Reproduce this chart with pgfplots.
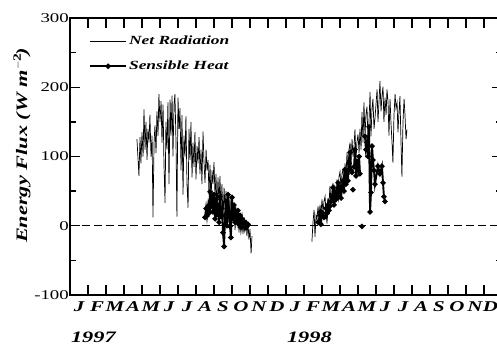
\documentclass[border=0pt]{standalone}
\usepackage{fontspec}
\setmainfont{Liberation Serif}[FakeStretch=1.4]
\usepackage{pgfplots}
\pgfplotsset{compat=1.18}

\begin{document}
\begin{tikzpicture}
\begin{axis}[
  name=ax,
  scale only axis,
  width=432bp, height=277bp,
  xmin=0, xmax=24, ymin=-100, ymax=300,
  axis line style={line width=1.5bp},
  tick style={line width=1.3bp, black},
  tick align=inside,
  xtick pos=both, ytick pos=both,
  xtick={0,...,24},
  x tick label as interval,
  xticklabels={J,F,M,A,M,J,J,A,S,O,N,D,J,F,M,A,M,J,J,A,S,O,N,{\raisebox{3bp}{D}\kern5bp}},
  x tick label style={font=\fontsize{15}{17}\selectfont\bfseries\itshape, yshift=-3bp},
  ytick={-100,0,100,200,300},
  minor y tick num=1,
  major tick length=10bp,
  minor tick length=6bp,
  /pgf/number format/assume math mode=true,
  y tick label style={font=\fontsize{13.5}{15}\selectfont, inner sep=1bp},
  ylabel={\bfseries\itshape Energy Flux (W m$^{\mathbf{-2}}$)},
  every axis y label/.style={at={(rel axis cs:0,0.54)}, rotate=90, anchor=center, yshift=48bp, font=\fontsize{16}{18}\selectfont},
  clip=false,
  legend style={draw=none, fill=none, at={(0.037,0.95)}, anchor=north west,
    font=\fontsize{12.5}{14}\selectfont\bfseries\itshape, row sep=11bp,
    /tikz/every even column/.append style={column sep=4bp}},
  legend cell align=left,
  legend image code/.code={\draw[#1, mark repeat=2, mark phase=2] plot coordinates {(0bp,0bp) (18bp,0bp) (36bp,0bp)};},
]
% Net radiation 1997
\addplot[black, line width=0.7bp, mark=none] coordinates {
(3.72,125)(3.83,72)(3.89,128)(3.94,90)(4.00,135)(4.06,100)(4.11,168)(4.17,110)
(4.22,150)(4.28,95)(4.33,140)(4.39,120)(4.44,160)(4.50,100)(4.56,130)(4.61,12)
(4.67,120)(4.72,145)(4.78,105)(4.83,165)(4.89,130)(4.94,190)(5.00,150)(5.06,180)
(5.11,120)(5.17,175)(5.22,90)(5.28,33)(5.33,150)(5.39,110)(5.44,178)(5.50,60)
(5.56,182)(5.61,130)(5.67,188)(5.72,100)(5.78,175)(5.83,190)(5.89,120)(5.94,13)
(6.00,185)(6.06,140)(6.11,170)(6.17,80)(6.22,160)(6.28,45)(6.33,130)(6.39,100)
(6.44,158)(6.50,60)(6.56,26)(6.61,140)(6.67,95)(6.72,150)(6.78,70)(6.83,120)
(6.89,85)(6.94,135)(7.00,67)(7.06,115)(7.11,90)(7.17,128)(7.22,75)(7.28,110)
(7.33,60)(7.39,136)(7.44,95)(7.50,62)(7.56,110)(7.61,80)(7.67,95)(7.72,45)
(7.78,88)(7.83,33)(7.89,80)(7.94,60)(8.00,92)(8.06,40)(8.11,75)(8.17,13)
(8.22,70)(8.28,30)(8.33,72)(8.39,20)(8.44,60)(8.50,9)(8.56,55)(8.61,25)
(8.67,50)(8.72,10)(8.78,45)(8.83,5)(8.89,42)(8.94,-5)(9.00,35)(9.06,10)
(9.11,30)(9.17,-6)(9.22,25)(9.28,5)(9.33,20)(9.39,-10)(9.44,18)(9.50,2)
(9.56,15)(9.61,-12)(9.67,10)(9.72,-5)(9.78,8)(9.83,-15)(9.89,5)(9.94,-20)
(10.00,-5)(10.06,-40)(10.11,-15)
};
\addlegendentry{Net Radiation}
% Sensible heat 1997
\addplot[black, line width=1.9bp, mark=*, mark size=1.6bp] coordinates {
(7.50,12)(7.56,25)(7.61,14)(7.67,28)(7.72,18)(7.78,49)(7.83,30)(7.89,40)
(7.94,20)(8.00,45)(8.06,10)(8.11,38)(8.17,16)(8.22,30)(8.28,5)(8.33,42)
(8.39,13)(8.44,25)(8.50,-10)(8.56,-30)(8.61,15)(8.67,35)(8.72,0)(8.78,45)
(8.83,20)(8.89,-1)(8.94,-17)(9.00,41)(9.06,10)(9.11,30)(9.17,5)(9.22,19)
(9.28,8)(9.33,22)(9.39,2)(9.44,15)(9.50,-2)(9.56,10)(9.61,0)(9.67,6)
(9.72,-3)(9.78,4)(9.83,-1)(9.89,2)
};
\addlegendentry{Sensible Heat}
% Net radiation 1998
\addplot[black, line width=0.7bp, mark=none, forget plot] coordinates {
(13.44,-23)(13.50,5)(13.56,23)(13.61,-16)(13.67,15)(13.72,9)(13.78,28)(13.83,12)
(13.89,30)(13.94,16)(14.00,38)(14.06,20)(14.11,35)(14.17,42)(14.22,20)(14.28,3)
(14.33,40)(14.39,30)(14.44,57)(14.50,35)(14.56,50)(14.61,62)(14.67,45)(14.72,58)
(14.78,40)(14.83,67)(14.89,38)(14.94,70)(15.00,78)(15.06,55)(15.11,75)(15.17,81)
(15.22,60)(15.28,90)(15.33,70)(15.39,106)(15.44,80)(15.50,110)(15.56,120)(15.61,90)
(15.67,125)(15.72,100)(15.78,115)(15.83,139)(15.89,96)(15.94,120)(16.00,132)(16.06,105)
(16.11,140)(16.17,110)(16.22,164)(16.28,120)(16.33,178)(16.39,130)(16.44,160)(16.50,172)
(16.56,115)(16.61,150)(16.67,193)(16.72,129)(16.78,170)(16.83,183)(16.89,140)(16.94,154)
(17.00,175)(17.06,197)(17.11,150)(17.17,180)(17.22,209)(17.28,165)(17.33,187)(17.39,201)
(17.44,150)(17.50,185)(17.56,160)(17.61,197)(17.67,178)(17.72,130)(17.78,183)(17.83,150)
(17.89,120)(17.94,91)(18.00,160)(18.06,190)(18.11,170)(18.17,178)(18.22,135)(18.28,165)
(18.33,187)(18.39,120)(18.44,71)(18.50,150)(18.56,183)(18.61,160)(18.67,125)(18.72,139)
};
% Sensible heat 1998
\addplot[black, line width=1.9bp, mark=*, mark size=1.6bp, forget plot] coordinates {
(13.78,5)(13.89,15)(13.94,2)(14.00,19)(14.11,12)(14.17,13)(14.22,25)(14.28,18)
(14.33,30)(14.39,22)(14.44,28)(14.50,35)(14.56,41)(14.61,55)(14.67,30)(14.72,48)
(14.78,38)(14.83,42)(14.89,62)(14.94,45)(15.00,55)(15.06,40)(15.11,57)(15.17,65)
(15.22,50)(15.28,81)(15.33,60)(15.39,75)(15.44,65)(15.50,90)(15.56,106)(15.61,80)
(15.67,77)
};
\addplot[black, line width=1.9bp, mark=*, mark size=1.6bp, forget plot] coordinates {
(15.72,52)
};
\addplot[black, line width=1.9bp, mark=*, mark size=1.6bp, forget plot] coordinates {
(15.78,85)(15.83,110)(15.89,72)(15.94,93)(16.00,80)(16.06,100)(16.11,75)
};
\addplot[black, line width=1.9bp, mark=*, mark size=1.6bp, forget plot] coordinates {
(16.22,-1)
};
\addplot[black, line width=1.9bp, mark=*, mark size=1.6bp, forget plot] coordinates {
(16.39,129)(16.44,110)(16.50,120)(16.56,100)(16.61,143)(16.67,20)(16.72,48)(16.78,115)
(16.83,95)(16.89,80)(16.94,60)(17.11,86)(17.22,75)(17.33,86)(17.39,62)(17.44,42)(17.50,35)
};
% zero line
\addplot[black, line width=1.2bp, dash pattern=on 8bp off 4bp, forget plot] coordinates {(0,0) (24,0)};
\node[font=\fontsize{16}{18}\selectfont\bfseries\itshape, inner sep=0pt] at (axis cs:1.3,-100) [yshift=-42bp] {1997};
\node[font=\fontsize{16}{18}\selectfont\bfseries\itshape, inner sep=0pt] at (axis cs:13.3,-100) [yshift=-42bp] {1998};
\end{axis}
\pgfresetboundingbox
\path[use as bounding box] ([shift={(-70bp,-50bp)}]ax.south west) rectangle ([shift={(-5bp,18bp)}]ax.north east);
\end{tikzpicture}
\end{document}
